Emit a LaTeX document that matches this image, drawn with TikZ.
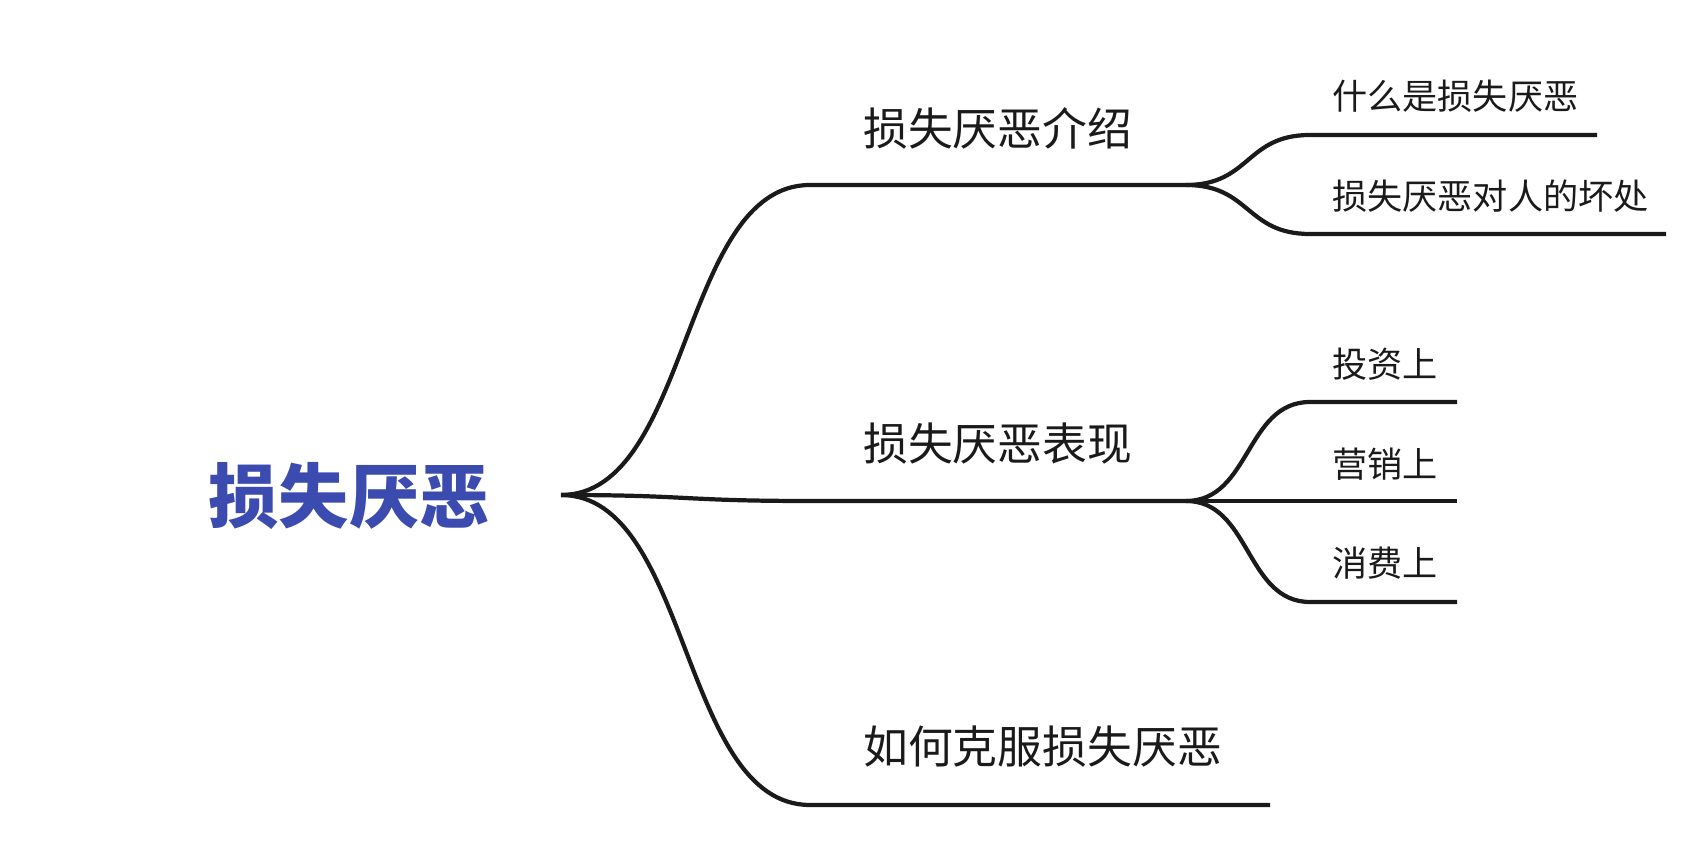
\documentclass[tikz,border=0pt]{standalone}
\usepackage{fontspec}
\usepackage{tikz}
\usetikzlibrary{positioning, calc}
\newfontfamily\cjk{Noto Sans CJK SC}
\definecolor{rootblue}{HTML}{3B4BAF}
\definecolor{inkgray}{HTML}{1A1A1A}

\tikzset{
  limb/.style={draw=inkgray, line width=2.4pt},
  scurve/.style={to path={.. controls ($(\tikztostart)!0.52!(\tikztotarget|-\tikztostart)$)
      and ($(\tikztotarget)!0.52!(\tikztostart|-\tikztotarget)$) .. (\tikztotarget)}},
  toplabel/.style={font=\cjk\fontsize{25.5}{30}\selectfont, text=inkgray, anchor=west, inner sep=0pt},
  leaflabel/.style={font=\cjk\fontsize{20}{24}\selectfont, text=inkgray, anchor=west, inner sep=0pt},
}

\begin{document}
\begin{tikzpicture}
    \useasboundingbox (0,0) rectangle (33.96,17);

    % root
    \node[font=\cjk\bfseries\fontsize{40}{46}\selectfont, text=rootblue] (root) at (6.98,7.08) {损失厌恶};
    \coordinate (hub) at (11.22,7.1);

    % main branches
    \coordinate (introL) at (16.2,13.3);  \coordinate (introR) at (23.72,13.3);
    \coordinate (showL)  at (16.2,6.98);  \coordinate (showR)  at (23.72,6.98);
    \coordinate (beatL)  at (16.2,0.9);   \coordinate (beatR)  at (25.4,0.9);

    \draw[limb] (hub) to[scurve] (introL) -- (introR);
    \draw[limb] (hub) to[scurve] (showL) -- (showR);
    \draw[limb] (hub) to[scurve] (beatL) -- (beatR);

    \node[toplabel] (intro) at (17.26,14.44) {损失厌恶介绍};
    \node[toplabel] (show)  at (17.26,8.12)  {损失厌恶表现};
    \node[toplabel] (beat)  at (17.26,2.06)  {如何克服损失厌恶};

    % leaves of the first branch
    \coordinate (whatL) at (26.2,14.3);  \coordinate (whatR) at (31.94,14.3);
    \coordinate (harmL) at (26.2,12.32); \coordinate (harmR) at (33.32,12.32);
    \draw[limb] (introR) to[scurve] (whatL) -- (whatR);
    \draw[limb] (introR) to[scurve] (harmL) -- (harmR);
    \node[leaflabel] (what) at (26.64,15.08) {什么是损失厌恶};
    \node[leaflabel] (harm) at (26.64,13.08) {损失厌恶对人的坏处};

    % leaves of the second branch
    \coordinate (investL) at (26.2,8.96); \coordinate (investR) at (29.14,8.96);
    \coordinate (marketR) at (29.14,6.98);
    \coordinate (spendL)  at (26.2,4.96); \coordinate (spendR)  at (29.14,4.96);
    \draw[limb] (showR) to[scurve] (investL) -- (investR);
    \draw[limb] (showR) -- (marketR);
    \draw[limb] (showR) to[scurve] (spendL) -- (spendR);
    \node[leaflabel] (invest) at (26.64,9.72) {投资上};
    \node[leaflabel] (market) at (26.64,7.72) {营销上};
    \node[leaflabel] (spend)  at (26.64,5.74) {消费上};
\end{tikzpicture}
\end{document}
